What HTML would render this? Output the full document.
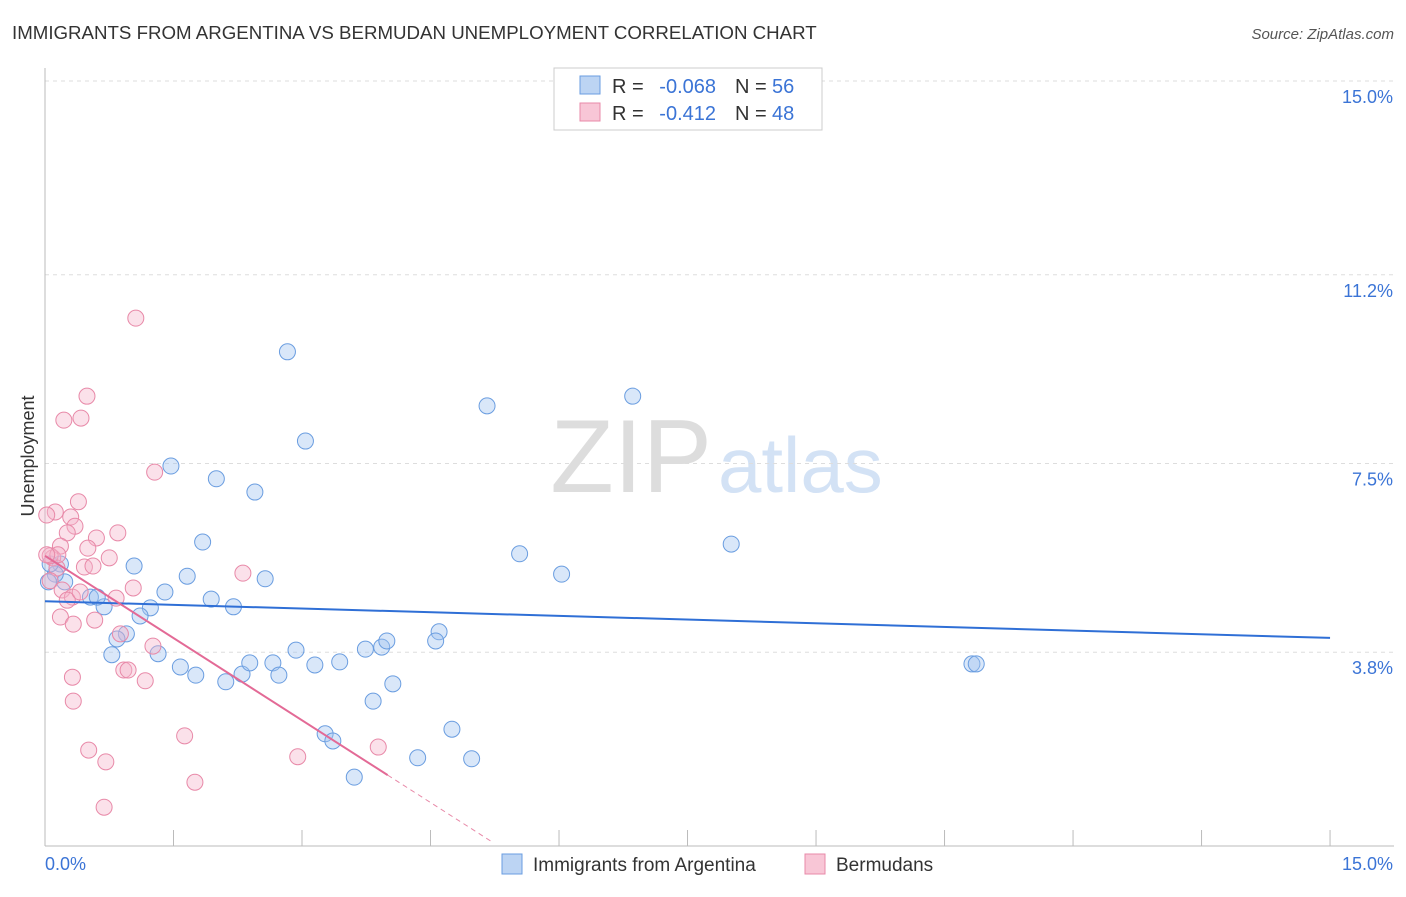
<!DOCTYPE html>
<html><head><meta charset="utf-8"><style>
body{margin:0;background:#fff;font-family:"Liberation Sans",sans-serif;}
svg text{font-family:"Liberation Sans",sans-serif;}
</style></head><body>
<svg width="1406" height="892" xmlns="http://www.w3.org/2000/svg">
<text x="12" y="39" font-size="18.7" fill="#333">IMMIGRANTS FROM ARGENTINA VS BERMUDAN UNEMPLOYMENT CORRELATION CHART</text>
<text x="1394" y="39" font-size="15" fill="#555" font-style="italic" text-anchor="end">Source: ZipAtlas.com</text>
<text x="34" y="456" font-size="18" fill="#333" transform="rotate(-90 34 456)" text-anchor="middle">Unemployment</text>
<text x="712" y="492" font-size="104" fill="#ddd" text-anchor="end" font-family="Liberation Serif">ZIP</text>
<text x="718" y="492" font-size="78" fill="#d3e2f5">atlas</text>
<g id="grid"></g><g id="axes"></g><g id="pts"></g><g id="trend"></g>
<g>
<rect x="554" y="68" width="268" height="62" fill="#fff" stroke="#ccc"/>
<rect x="580" y="76" width="20" height="18" fill="#bcd4f3" stroke="#6a9de0"/>
<rect x="580" y="103" width="20" height="18" fill="#f8c6d6" stroke="#e889a8"/>
<text x="612" y="93" font-size="20" fill="#333">R =</text>
<text x="716" y="93" font-size="20" fill="#3b74d6" text-anchor="end">-0.068</text>
<text x="735" y="93" font-size="20" fill="#333">N =</text>
<text x="772" y="93" font-size="20" fill="#3b74d6">56</text>
<text x="612" y="120" font-size="20" fill="#333">R =</text>
<text x="716" y="120" font-size="20" fill="#3b74d6" text-anchor="end">-0.412</text>
<text x="735" y="120" font-size="20" fill="#333">N =</text>
<text x="772" y="120" font-size="20" fill="#3b74d6">48</text>
</g>
<g>
<rect x="502" y="854" width="20" height="20" fill="#bcd4f3" stroke="#6a9de0"/>
<text x="533" y="871" font-size="19" fill="#333">Immigrants from Argentina</text>
<rect x="805" y="854" width="20" height="20" fill="#f8c6d6" stroke="#e889a8"/>
<text x="836" y="871" font-size="19" fill="#333">Bermudans</text>
</g>
</svg>
<script>
const yTicks=[15.0,11.2,7.5,3.8];
const yTickLabels=["15.0%","11.2%","7.5%","3.8%"];
const xTickLabels=["0.0%","15.0%"];
const blueX=[2.83,3.04,5.16,6.86,1.47,2.0,2.45,1.84,8.01,5.54,6.03,1.04,1.66,2.57,1.4,1.94,2.2,1.23,1.11,0.69,0.53,0.61,0.18,0.23,0.12,0.95,0.84,0.78,1.32,1.58,1.76,2.11,2.3,2.39,2.66,2.73,2.93,3.15,3.44,3.74,3.93,3.99,4.6,4.56,4.06,3.83,3.27,3.36,4.75,4.35,4.98,3.61,10.82,10.87,0.06,0.04];
const blueY=[9.69,7.94,8.63,8.82,7.45,7.2,6.94,5.96,5.92,5.73,5.33,5.49,5.29,5.24,4.98,4.84,4.69,4.67,4.51,4.69,4.88,4.88,5.53,5.18,5.33,4.16,4.06,3.75,3.77,3.51,3.35,3.22,3.37,3.59,3.59,3.35,3.84,3.55,3.61,3.86,3.9,4.02,4.2,4.02,3.18,2.84,2.2,2.06,2.29,1.73,1.71,1.35,3.57,3.57,5.53,5.18];
const pinkX=[1.06,0.49,0.22,0.42,1.28,0.39,0.12,0.02,0.3,0.35,0.85,0.6,0.26,0.5,0.18,0.75,0.09,0.14,0.46,0.56,2.31,1.03,0.06,0.2,0.32,0.83,0.26,0.18,0.58,0.33,0.88,1.26,0.92,0.97,1.17,0.32,0.33,1.63,0.51,0.71,2.95,3.89,1.75,0.69,0.06,0.15,0.41,0.02];
const pinkY=[10.35,8.82,8.35,8.39,7.33,6.75,6.55,6.49,6.45,6.27,6.14,6.04,6.14,5.84,5.88,5.65,5.65,5.45,5.47,5.49,5.35,5.06,5.2,5.02,4.88,4.86,4.82,4.49,4.43,4.35,4.16,3.92,3.45,3.45,3.24,3.31,2.84,2.16,1.88,1.65,1.75,1.94,1.25,0.76,5.69,5.71,4.98,5.71];
const blueTrend=[4.8,4.08];
const pinkTrend=[5.69,1.39];
const pinkTrendEnd=4.0, pinkDashEnd=5.2;
const NS="http://www.w3.org/2000/svg";
const X=v=>45+v*85.67, Y=v=>846-v*51.0;
function mk(t,a,p){const e=document.createElementNS(NS,t);for(const k in a)e.setAttribute(k,a[k]);document.getElementById(p).appendChild(e);return e;}
yTicks.forEach((t,i)=>{
 const l=mk('line',{x1:45,x2:1394,y1:Y(t),y2:Y(t),stroke:'#ddd','stroke-dasharray':'4,4'},'grid');
 
 
 const tx=mk('text',{x:1393,y:Y(t)+22,'font-size':18,fill:'#3b74d6','text-anchor':'end'},'axes');
 tx.textContent=yTickLabels[i];
 
 
});
const ax=mk('line',{x1:45,x2:1394,y1:846,y2:846,stroke:'#bbb'},'axes');


const ay=mk('line',{x1:45,x2:45,y1:68,y2:846,stroke:'#bbb'},'axes');


for(let i=1;i<=10;i++){const t=mk('line',{x1:X(i*1.5),x2:X(i*1.5),y1:830,y2:846,stroke:'#bbb'},'axes');
 
 }
[[0,'start',45],[15,'end',1393]].forEach((d,i)=>{const t=mk('text',{x:d[2],y:870,'font-size':18,fill:'#3b74d6','text-anchor':d[1]},'axes');t.textContent=xTickLabels[i];
 
 });
blueX.forEach((v,i)=>{const c=mk('circle',{cx:X(v),cy:Y(blueY[i]),r:8,fill:'rgba(160,196,240,0.4)',stroke:'#6a9de0','stroke-width':1},'pts');
 
 });
pinkX.forEach((v,i)=>{const c=mk('circle',{cx:X(v),cy:Y(pinkY[i]),r:8,fill:'rgba(245,180,202,0.4)',stroke:'#e889a8','stroke-width':1},'pts');
 
 });
const bt=mk('line',{x1:X(0),y1:Y(blueTrend[0]),x2:X(15),y2:Y(blueTrend[1]),stroke:'#2f6fd6','stroke-width':2},'trend');


const slope=(pinkTrend[1]-pinkTrend[0])/pinkTrendEnd;
const pt=mk('line',{x1:X(0),y1:Y(pinkTrend[0]),x2:X(pinkTrendEnd),y2:Y(pinkTrend[1]),stroke:'#e36a96','stroke-width':2},'trend');


const pd=mk('line',{x1:X(pinkTrendEnd),y1:Y(pinkTrend[1]),x2:X(pinkDashEnd),y2:Y(pinkTrend[0]+slope*pinkDashEnd),stroke:'#e889a8','stroke-width':1,'stroke-dasharray':'5,4'},'trend');


</script>
</body></html>
